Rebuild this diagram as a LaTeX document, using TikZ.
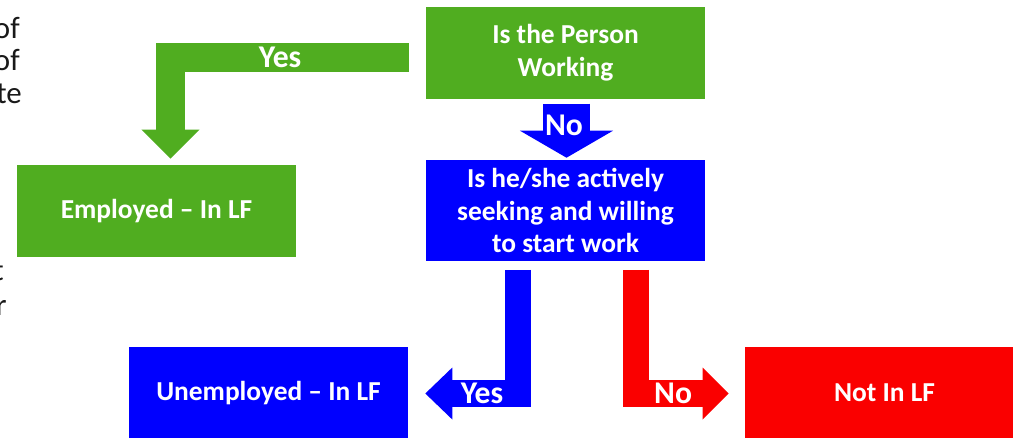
\documentclass[tikz,border=0pt]{standalone}
\usepackage{fontspec}
\setmainfont{Carlito}
\usetikzlibrary{arrows.meta, calc}
\definecolor{lfgreen}{RGB}{80,173,32}
\definecolor{lfblue}{RGB}{0,0,255}
\definecolor{lfred}{RGB}{250,0,0}

\begin{document}
\begin{tikzpicture}[x=0.025cm, y=-0.025cm,
    box/.style={text=white, font=\bfseries\fontsize{19.5}{23.2}\selectfont, align=center,
        minimum width=6.975cm, inner sep=0pt},
    lbl/.style={text=white, font=\bfseries\fontsize{22.5}{26}\selectfont, inner sep=0pt},
    side/.style={text=black!90, font=\fontsize{22}{26}\selectfont, inner sep=0pt, anchor=base east},
    flow/.style={line join=miter, line cap=butt}]
        \useasboundingbox (0,0) rectangle (1013,437);

        % text running off the left edge
        \node[side] (s1) at (20,38) {of};
        \node[side] (s2) at (20,70) {of};
        \node[side] (s3) at (22,103) {te};
        \node[side] (s4) at (4,280) {t};
        \node[side] (s5) at (7,315) {r};

        % boxes
        \node[box, fill=lfgreen, minimum height=2.29cm] (top) at (565.5,53) {Is the Person\\Working};
        \node[box, fill=lfblue, minimum height=2.525cm] (seek) at (565.5,210.5) {Is he/she actively\\seeking and willing\\to start work};
        \node[box, fill=lfgreen, minimum height=2.3cm] (emp) at (156.5,211) {Employed -- In LF};
        \node[box, fill=lfblue, minimum height=2.3cm] (unemp) at (268.5,393) {Unemployed -- In LF};
        \node[box, fill=lfred, minimum height=2.3cm] (notlf) at (884.5,393) {Not In LF};

        % arrows
        \draw[flow, lfgreen, line width=0.725cm, -{Triangle[length=0.725cm, width=1.45cm, line width=0pt]}]
            ($(top.west)+(-17,4.5)$) -| ($(emp.north)+(14,-6)$) node[lbl, pos=0.27] {Yes};
        \draw[flow, lfblue, line width=1.175cm, -{Triangle[length=0.675cm, width=2.325cm, line width=0pt]}]
            ($(top.south)+(1,4.5)$) -- ($(seek.north)+(1,-2)$);
        \node[lbl] (no1) at (564,125) {No};
        \draw[flow, lfblue, line width=0.6625cm, -{Triangle[length=0.675cm, width=1.3cm, line width=0pt]}]
            ($(seek.south)+(-47.5,8.5)$) |- ($(unemp.east)+(17,0.5)$) node[lbl, pos=0.694] {Yes};
        \draw[flow, lfred, line width=0.6625cm, -{Triangle[length=0.65cm, width=1.3cm, line width=0pt]}]
            ($(seek.south)+(70.5,8.5)$) |- ($(notlf.west)+(-16,0.5)$) node[lbl, pos=0.70] {No};
\end{tikzpicture}
\end{document}
